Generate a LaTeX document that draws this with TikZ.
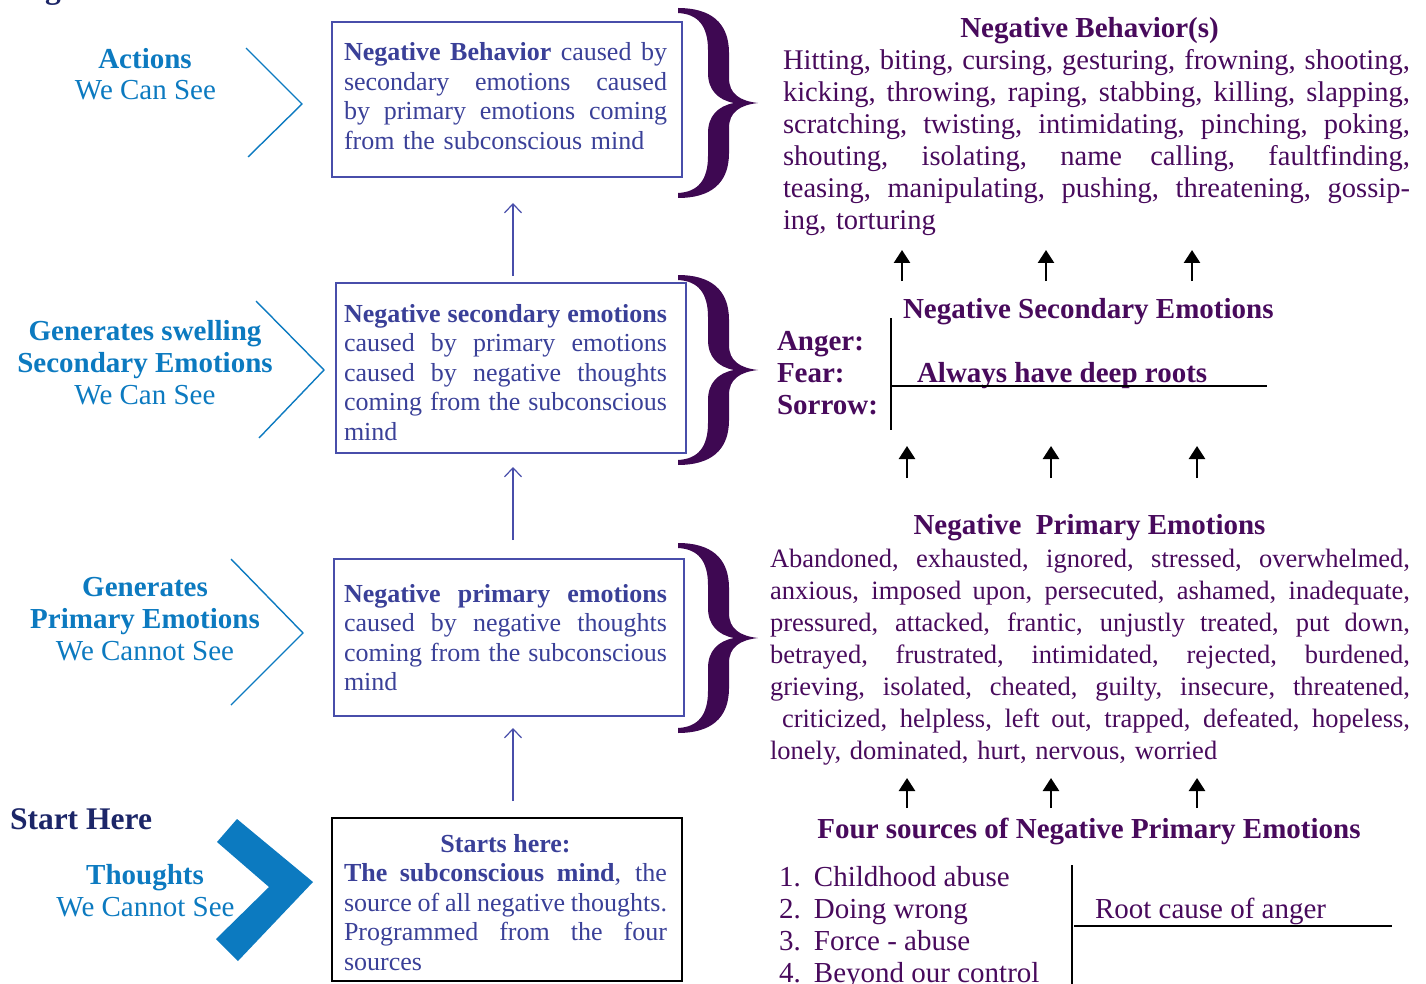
\documentclass[tikz,border=0pt]{standalone}
\usepackage{fontspec}
\setmainfont{Liberation Serif}
\usetikzlibrary{arrows.meta}

\definecolor{labelblue}{RGB}{12,122,192}
\definecolor{navy}{RGB}{28,38,104}
\definecolor{boxink}{RGB}{58,64,152}
\definecolor{boxline}{RGB}{72,78,170}
\definecolor{plum}{RGB}{72,10,92}
\definecolor{bracecol}{RGB}{62,8,82}

% one justified row of a paragraph, and a row set at natural width
\newcommand{\jrow}[1]{\hbox to \hsize{\spaceskip=0.25em plus 1em minus 0.2em\relax #1}}
\newcommand{\frow}[1]{\hbox{#1}}

\begin{document}
\begin{tikzpicture}[x=1pt,y=-1pt,
  every node/.style={inner sep=0pt, outer sep=0pt},
  lbl/.style={anchor=base, text=labelblue, font=\fontsize{29}{32}\selectfont},
  lblb/.style={anchor=base, text=labelblue, font=\fontsize{29}{32}\selectfont\bfseries},
  boxframe/.style={draw=boxline, line width=1.4pt, minimum width=350pt},
  boxtext/.style={anchor=base west, text width=323pt, text=boxink,
    font=\fontsize{26}{29.5}\selectfont},
  chev/.style={draw=labelblue, line width=1.4pt},
  linkarrow/.style={draw=boxline, line width=1.2pt,
    -{Straight Barb[length=9pt,width=17pt]}},
  uparrow/.style={draw=black, line width=2.6pt,
    -{Triangle[length=13pt,width=16pt]}},
  plumtext/.style={text=plum, font=\fontsize{29}{32}\selectfont},
  plumbold/.style={text=plum, font=\fontsize{29}{32}\selectfont\bfseries},
  seprule/.style={draw=black, line width=1.4pt},
  bracepic/.pic={
    \fill[bracecol] (0,0) .. controls (32,0) and (51,14) .. (51,45)
      -- (51,70) .. controls (51,86) and (62,93) .. (80,95)
      .. controls (62,97) and (51,104) .. (51,120)
      -- (51,145) .. controls (51,176) and (32,190) .. (0,190)
      -- (0,185) .. controls (20,184) and (30,172) .. (30,148)
      -- (30,125) .. controls (30,108) and (40,98) .. (56,95)
      .. controls (40,92) and (30,82) .. (30,65)
      -- (30,42) .. controls (30,18) and (20,6) .. (0,5) -- cycle;
  }
]
\useasboundingbox (0,0) rectangle (1426,984);

% ---------- title fragment at the top edge ----------
\node[anchor=base west, text=navy, font=\fontsize{31.5}{34}\selectfont\bfseries] (cutg) at (45,-1) {g};

% ---------- left column: labels and chevrons ----------
\node[lblb] (act1) at (145,69) {Actions};
\node[lbl]  (act2) at (145.5,100) {We Can See};
\draw[chev] (246,48) -- (302,104) -- (248,157);

\node[lblb] (sec1) at (145,340) {Generates swelling};
\node[lblb] (sec2) at (145,372) {Secondary Emotions};
\node[lbl]  (sec3) at (145,404) {We Can See};
\draw[chev] (256,301) -- (324,370) -- (259,438);

\node[lblb] (pri1) at (145,596) {Generates};
\node[lblb] (pri2) at (145,628) {Primary Emotions};
\node[lbl]  (pri3) at (145,660) {We Cannot See};
\draw[chev] (231,559) -- (303,633) -- (231,705);

\node[anchor=base west, text=navy, font=\fontsize{31.5}{34}\selectfont\bfseries] (start) at (10,829) {Start Here};
\node[lblb] (tho1) at (145,884) {Thoughts};
\node[lbl]  (tho2) at (145.5,916) {We Cannot See};
\fill[labelblue] (217,842) -- (237,819) -- (313,882) -- (238,961) -- (216,939) -- (269,887) -- cycle;

% ---------- middle column: boxes ----------
\node[boxframe, minimum height=155pt] (box1) at (507,99.5) {};
\node[boxframe, minimum height=170pt] (box2) at (511,368) {};
\node[boxframe, minimum height=157pt] (box3) at (509,637.5) {};
\node[boxframe, draw=black, minimum height=163pt] (box4) at (507,899.5) {};

\node[boxtext] (txt1) at (344,61) {%
  \jrow{\textbf{Negative Behavior} caused by}
  \jrow{secondary emotions caused}
  \jrow{by primary emotions coming}
  \frow{from the subconscious mind}};

\node[boxtext] (txt2) at (344,322) {%
  \jrow{\textbf{Negative secondary emotions}}
  \jrow{caused by primary emotions}
  \jrow{caused by negative thoughts}
  \jrow{coming from the subconscious}
  \frow{mind}};

\node[boxtext] (txt3) at (344,602) {%
  \jrow{\textbf{Negative primary emotions}}
  \jrow{caused by negative thoughts}
  \jrow{coming from the subconscious}
  \frow{mind}};

\node[boxtext] (txt4) at (344,852) {%
  \jrow{\hfil\textbf{Starts here:}\hfil}
  \jrow{\textbf{The subconscious mind}, the}
  \jrow{source of all negative thoughts.}
  \jrow{Programmed from the four}
  \frow{sources}};

\draw[linkarrow] ([xshift=2pt,yshift=7pt]box2.north) -- ([xshift=6pt,yshift=-26pt]box1.south);
\draw[linkarrow] ([xshift=4pt,yshift=19pt]box3.north) -- ([xshift=2pt,yshift=-14pt]box2.south);
\draw[linkarrow] ([xshift=6pt,yshift=17pt]box4.north) -- ([xshift=4pt,yshift=-12pt]box3.south);

% ---------- braces ----------
\pic at (678,8) {bracepic};
\pic at (678,275) {bracepic};
\pic at (678,543) {bracepic};

% ---------- right column ----------
\node[plumbold, anchor=base] (behtitle) at (1089.5,38) {Negative Behavior(s)};
\node[text=plum, font=\fontsize{28.5}{32}\selectfont, anchor=base west, text width=627pt] (behlist) at (783,70) {%
  \jrow{Hitting, biting, cursing, gesturing, frowning, shooting,}
  \jrow{kicking, throwing, raping, stabbing, killing, slapping,}
  \jrow{scratching, twisting, intimidating, pinching, poking,}
  \jrow{shouting, isolating, name calling, faultfinding,}
  \jrow{teasing, manipulating, pushing, threatening, gossip-}
  \frow{ing, torturing}};

\node[plumbold, anchor=base west] (sectitle) at (903,318) {Negative Secondary Emotions};
\node[plumbold, anchor=base west] (anger) at (777,350) {Anger:};
\node[plumbold, anchor=base west] (fear) at (777,382) {Fear:};
\node[plumbold, anchor=base west] (sorrow) at (777,414) {Sorrow:};
\node[plumbold, anchor=base west] (roots) at (917,382) {Always have deep roots};
\coordinate (vtop) at (891,318);
\coordinate (vbot) at (891,430);
\coordinate (hend) at (1267,386);
\draw[seprule] (vtop) -- (vbot);
\draw[seprule] (vtop |- hend) -- (hend);

\node[plumbold, anchor=base] (pritit) at (1089.5,534) {Negative\ \ Primary Emotions};
\node[text=plum, font=\fontsize{26.5}{32}\selectfont, anchor=base west, text width=640pt] (prilist) at (770,567) {%
  \jrow{Abandoned, exhausted, ignored, stressed, overwhelmed,}
  \jrow{anxious, imposed upon, persecuted, ashamed, inadequate,}
  \jrow{pressured, attacked, frantic, unjustly treated, put down,}
  \jrow{betrayed, frustrated, intimidated, rejected, burdened,}
  \jrow{grieving, isolated, cheated, guilty, insecure, threatened,}
  \jrow{\hspace{12pt}criticized, helpless, left out, trapped, defeated, hopeless,}
  \frow{lonely, dominated, hurt, nervous, worried}};

\node[plumbold, anchor=base] (srctitle) at (1089,838) {Four sources of Negative Primary Emotions};
\node[plumtext, anchor=base west] (src1) at (779,886) {\makebox[35pt][l]{1.}Childhood abuse};
\node[plumtext, anchor=base west] (src2) at (779,918) {\makebox[35pt][l]{2.}Doing wrong};
\node[plumtext, anchor=base west] (src3) at (779,950) {\makebox[35pt][l]{3.}Force - abuse};
\node[plumtext, anchor=base west] (src4) at (779,982) {\makebox[35pt][l]{4.}Beyond our control};
\node[plumtext, anchor=base west] (rootcause) at (1095,918) {Root cause of anger};
\coordinate (v2top) at (1072,865);
\coordinate (v2bot) at (1072,984);
\coordinate (h2a) at (1074,926);
\coordinate (h2b) at (1392,926);
\draw[seprule] (v2top) -- (v2bot);
\draw[seprule] (h2a) -- (h2b);

% ---------- upward arrows between the right-hand sections ----------
\foreach \n/\x in {1/902,2/1046,3/1192} {
  \coordinate (ra\n) at (\x,281);
  \coordinate (rb\n) at (\x,250);
  \draw[uparrow] (ra\n) -- (rb\n);
}
\foreach \n/\x in {1/907,2/1051,3/1197} {
  \coordinate (sa\n) at (\x,478);
  \coordinate (sb\n) at (\x,446);
  \draw[uparrow] (sa\n) -- (sb\n);
  \coordinate (ta\n) at (\x,808);
  \coordinate (tb\n) at (\x,778);
  \draw[uparrow] (ta\n) -- (tb\n);
}
\end{tikzpicture}
\end{document}
